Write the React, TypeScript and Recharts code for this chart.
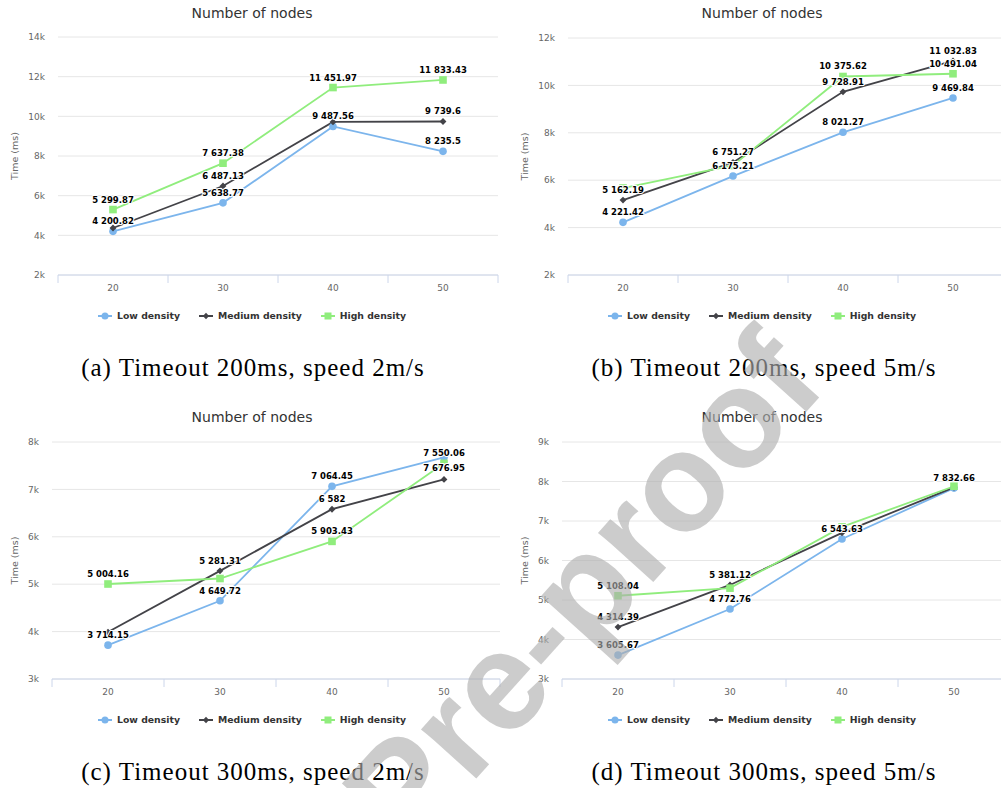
import React from 'react';
import { LineChart, Line, XAxis, YAxis, CartesianGrid } from 'recharts';

const FONT = '"DejaVu Sans", "Lucida Grande", Arial, sans-serif';
const LOW = '#7cb5ec';
const MEDIUM = '#434348';
const HIGH = '#90ed7d';

const nodeCounts = [20, 30, 40, 50];
const seriesNames = ['Low density', 'Medium density', 'High density'];

// (a) timeout 200ms, speed 2m/s
const lowA = [4200.82, 5638.77, 9487.56, 8235.5];
const mediumA = [4370, 6487.13, 9720, 9739.6];
const highA = [5299.87, 7637.38, 11451.97, 11833.43];
const ticksA = [2000, 4000, 6000, 8000, 10000, 12000, 14000];

// (b) timeout 200ms, speed 5m/s
const lowB = [4221.42, 6175.21, 8021.27, 9469.84];
const mediumB = [5162.19, 6751.27, 9728.91, 11032.83];
const highB = [5670, 6620, 10375.62, 10491.04];
const ticksB = [2000, 4000, 6000, 8000, 10000, 12000];

// (c) timeout 300ms, speed 2m/s
const lowC = [3714.15, 4649.72, 7064.45, 7676.95];
const mediumC = [3990, 5281.31, 6582, 7210];
const highC = [5004.16, 5120, 5903.43, 7550.06];
const ticksC = [3000, 4000, 5000, 6000, 7000, 8000];

// (d) timeout 300ms, speed 5m/s
const lowD = [3605.67, 4772.76, 6543.63, 7832.66];
const mediumD = [4314.39, 5381.12, 6700, 7850];
const highD = [5108.04, 5300, 6850, 7880];
const ticksD = [3000, 4000, 5000, 6000, 7000, 8000, 9000];

const captions = [
  '(a) Timeout 200ms, speed 2m/s',
  '(b) Timeout 200ms, speed 5m/s',
  '(c) Timeout 300ms, speed 2m/s',
  '(d) Timeout 300ms, speed 5m/s',
];

// data labels that the original chart hid because they overlapped
const hiddenA = ['medium-0', 'medium-2'];
const hiddenB = ['high-0', 'high-1'];
const hiddenC = ['medium-0', 'high-1', 'medium-3'];
const hiddenD = ['high-1', 'medium-2', 'high-2', 'medium-3', 'high-3'];
const belowC = ['low-3'];

const fmt = (v: number) => {
  const [i, d] = String(v).split('.');
  const int = i.replace(/\B(?=(\d{3})+(?!\d))/g, ' ');
  return d ? `${int}.${d}` : int;
};

type Shape = 'circle' | 'diamond' | 'square';

function Marker({ shape, cx, cy, color, r = 3.8 }: { shape: Shape; cx: number; cy: number; color: string; r?: number }) {
  if (cx == null || cy == null) return <g />;
  if (shape === 'circle') return <circle cx={cx} cy={cy} r={r} fill={color} />;
  if (shape === 'square') return <rect x={cx - r} y={cy - r} width={r * 2} height={r * 2} fill={color} />;
  const d = r * 0.9;
  return <path d={`M${cx},${cy - d}L${cx + d},${cy}L${cx},${cy + d}L${cx - d},${cy}Z`} fill={color} />;
}

function XTick(props: any) {
  const { x, y, payload, index, half } = props;
  const last = index === nodeCounts.length - 1;
  return (
    <g>
      <line x1={x - half} x2={x - half} y1={y} y2={y + 8} stroke="#ccd6eb" />
      {last && <line x1={x + half} x2={x + half} y1={y} y2={y + 8} stroke="#ccd6eb" />}
      <text x={x} y={y + 16} textAnchor="middle" fontSize={9} fill="#666" fontFamily={FONT}>
        {payload.value}
      </text>
    </g>
  );
}

const series: { key: 'low' | 'medium' | 'high'; color: string; shape: Shape }[] = [
  { key: 'low', color: LOW, shape: 'circle' },
  { key: 'medium', color: MEDIUM, shape: 'diamond' },
  { key: 'high', color: HIGH, shape: 'square' },
];

function LegendIcon({ color, shape }: { color: string; shape: Shape }) {
  return (
    <svg width={14} height={10} style={{ display: 'block' }}>
      <line x1={0} x2={14} y1={5} y2={5} stroke={color} strokeWidth={2} />
      <Marker shape={shape} cx={7} cy={5} color={color} r={3.5} />
    </svg>
  );
}

interface PanelProps {
  low: number[];
  medium: number[];
  high: number[];
  ticks: number[];
  hidden: string[];
  below: string[];
  left: number;
  top: number;
  width: number;
  plotLeft: number;
  plotRight: number;
  plotTop: number;
  plotBottom: number;
  titleY: number;
  legendY: number;
  yLabelX: number;
}

const H = 330;

function Panel(p: PanelProps) {
  const rows = nodeCounts.map((n, i) => ({ nodes: n, low: p.low[i], medium: p.medium[i], high: p.high[i] }));
  const half = (p.plotRight - p.plotLeft) / 8;
  const labelDot = (key: string) => (d: any) => {
    const tag = `${key}-${d.index}`;
    if (p.hidden.includes(tag) || d.cy == null) return <g key={tag} />;
    const dy = p.below.includes(tag) ? 14 : -7;
    return (
      <text
        key={tag}
        x={d.cx}
        y={d.cy + dy}
        textAnchor="middle"
        fontSize={8.5}
        fontWeight="bold"
        fontFamily={FONT}
        fill="#000"
        stroke="#fff"
        strokeWidth={2}
        strokeLinejoin="round"
        paintOrder="stroke"
      >
        {fmt(d.payload[key])}
      </text>
    );
  };

  return (
    <div style={{ position: 'absolute', left: p.left, top: p.top, width: p.width, height: H }}>
      <LineChart
        width={p.width}
        height={H}
        data={rows}
        margin={{ top: p.plotTop, right: p.width - p.plotRight, bottom: H - p.plotBottom - 30, left: 0 }}
      >
        <CartesianGrid vertical={false} stroke="#e6e6e6" />
        <XAxis
          dataKey="nodes"
          type="category"
          height={30}
          padding={{ left: half, right: half }}
          axisLine={{ stroke: '#ccd6eb' }}
          tickLine={false}
          tickSize={0}
          tickMargin={0}
          interval={0}
          tick={(t: any) => <XTick {...t} half={half} />}
        />
        <YAxis
          type="number"
          domain={[p.ticks[0], p.ticks[p.ticks.length - 1]]}
          ticks={p.ticks}
          interval={0}
          width={p.plotLeft}
          axisLine={false}
          tickLine={false}
          tickSize={0}
          tickMargin={13}
          tick={{ fill: '#666', fontSize: 9, fontFamily: FONT }}
          tickFormatter={(v: number) => `${v / 1000}k`}
        />
        {series.map((s) => (
          <Line
            key={s.key}
            dataKey={s.key}
            stroke={s.color}
            strokeWidth={1.8}
            isAnimationActive={false}
            activeDot={false}
            dot={(d: any) => <Marker key={`${s.key}-${d.index}`} shape={s.shape} cx={d.cx} cy={d.cy} color={s.color} />}
          />
        ))}
        {series.map((s) => (
          <Line
            key={`lbl-${s.key}`}
            dataKey={s.key}
            stroke="none"
            isAnimationActive={false}
            activeDot={false}
            dot={labelDot(s.key)}
          />
        ))}
      </LineChart>
      <svg
        width={p.width}
        height={H}
        style={{ position: 'absolute', left: 0, top: 0, pointerEvents: 'none' }}
      >
        <text x={p.width / 2} y={p.titleY + 5} textAnchor="middle" fontSize={14} fill="#333" fontFamily={FONT}>
          Number of nodes
        </text>
        <text
          transform={`translate(${p.yLabelX}, ${(p.plotTop + p.plotBottom) / 2}) rotate(-90)`}
          textAnchor="middle"
          dominantBaseline="central"
          fontSize={9.5}
          fill="#666"
          fontFamily={FONT}
        >
          Time (ms)
        </text>
      </svg>
      <div
        style={{
          position: 'absolute',
          left: 0,
          top: p.legendY - 6,
          width: p.width,
          height: 12,
          display: 'flex',
          justifyContent: 'center',
          alignItems: 'center',
          gap: 19,
        }}
      >
        {series.map((s, i) => (
          <div key={s.key} style={{ display: 'flex', alignItems: 'center' }}>
            <LegendIcon color={s.color} shape={s.shape} />
            <span
              style={{
                marginLeft: 5,
                fontFamily: FONT,
                fontSize: 9.3,
                fontWeight: 'bold',
                color: '#333',
                lineHeight: '12px',
              }}
            >
              {seriesNames[i]}
            </span>
          </div>
        ))}
      </div>
    </div>
  );
}

export default function App() {
  return (
    <div
      style={{
        position: 'absolute',
        left: 0,
        top: 0,
        width: 1001,
        height: 788,
        overflow: 'hidden',
        background: '#fff',
      }}
    >
      <Panel
        low={lowA} medium={mediumA} high={highA} ticks={ticksA} hidden={hiddenA} below={[]}
        left={0} top={0} width={504} plotLeft={58} plotRight={498} plotTop={37} plotBottom={275}
        titleY={13} legendY={316} yLabelX={14}
      />
      <Panel
        low={lowB} medium={mediumB} high={highB} ticks={ticksB} hidden={hiddenB} below={[]}
        left={500} top={0} width={524} plotLeft={68} plotRight={508} plotTop={38} plotBottom={275}
        titleY={13} legendY={316} yLabelX={24}
      />
      <Panel
        low={lowC} medium={mediumC} high={highC} ticks={ticksC} hidden={hiddenC} below={belowC}
        left={0} top={400} width={504} plotLeft={52} plotRight={500} plotTop={42} plotBottom={279}
        titleY={17} legendY={320} yLabelX={14}
      />
      <Panel
        low={lowD} medium={mediumD} high={highD} ticks={ticksD} hidden={hiddenD} below={[]}
        left={500} top={400} width={524} plotLeft={62} plotRight={510} plotTop={42} plotBottom={279}
        titleY={17} legendY={320} yLabelX={24}
      />
      <svg
        width={1001}
        height={788}
        style={{ position: 'absolute', left: 0, top: 0, pointerEvents: 'none' }}
      >
        {captions.map((c, i) => (
          <text
            key={c}
            x={i % 2 === 0 ? 253 : 764}
            y={i < 2 ? 376 : 780}
            textAnchor="middle"
            fontFamily='"Liberation Serif", serif'
            fontSize={25}
            letterSpacing={1}
            fill="#000"
          >
            {c}
          </text>
        ))}
        <text
          transform="translate(618, 621) rotate(-48)"
          textAnchor="middle"
          fontFamily='"Liberation Sans", Arial, sans-serif'
          fontWeight="bold"
          fontSize={140}
          fill="rgb(175,175,175)"
          fillOpacity={0.63}
        >
          Pre-proof
        </text>
      </svg>
    </div>
  );
}
